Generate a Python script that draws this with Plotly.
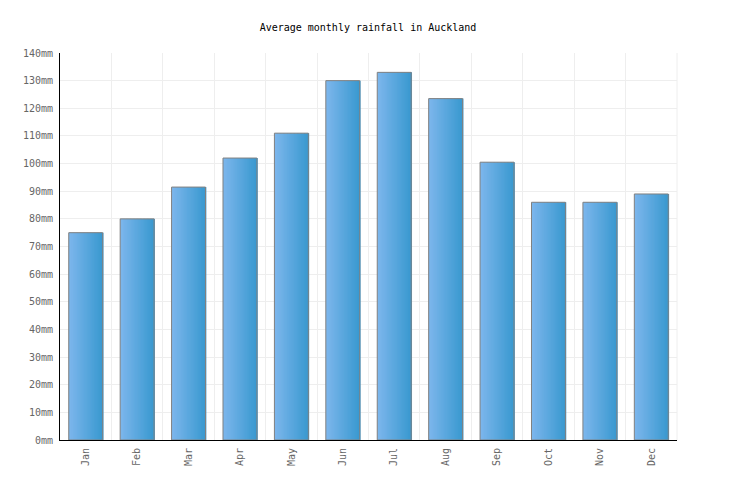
import plotly.graph_objects as go

months = ["Jan", "Feb", "Mar", "Apr", "May", "Jun", "Jul", "Aug", "Sep", "Oct", "Nov", "Dec"]
rainfall = [75, 80, 91.5, 102, 111, 130, 133, 123.5, 100.5, 86, 86, 89]
title = "Average monthly rainfall in Auckland"

left_rgb = (124, 182, 236)
right_rgb = (58, 153, 208)
N = 24
W = 0.66

fig = go.Figure()
for i in range(N):
    t = i / (N - 1)
    c = tuple(round(left_rgb[k] + (right_rgb[k] - left_rgb[k]) * t) for k in range(3))
    fig.add_trace(go.Bar(
        x=months, y=rainfall,
        width=W / N * 1.6, offset=-W / 2 + i * W / N,
        marker=dict(color="rgb(%d,%d,%d)" % c, line=dict(width=0)),
        hoverinfo="skip", showlegend=False,
    ))
fig.add_trace(go.Bar(
    x=months, y=rainfall, width=W, offset=-W / 2,
    marker=dict(color="rgba(0,0,0,0)", line=dict(color="#808080", width=1)),
    showlegend=False, hoverinfo="skip",
))

mono = "DejaVu Sans Mono"
fig.update_layout(
    width=736, height=500,
    margin=dict(l=60, r=59, t=53, b=60),
    barmode="overlay",
    paper_bgcolor="white", plot_bgcolor="white",
    title=dict(text=title, x=0.5, xanchor="center", y=1 - 27 / 500, yanchor="middle",
               font=dict(family=mono, size=10, color="#000")),
    font=dict(family=mono, size=10, color="#666"),
    xaxis=dict(
        tickson="boundaries", showgrid=True, gridcolor="#eeeeee",
        tickangle=-90, showline=True, linecolor="#000", linewidth=1,
        ticks="", tickfont=dict(family=mono, size=10, color="#666"),
        range=[-0.5, 11.5], ticklabelstandoff=3,
    ),
    yaxis=dict(
        range=[0, 140], dtick=10, ticksuffix="mm",
        showgrid=True, gridcolor="#eeeeee", zeroline=False,
        showline=True, linecolor="#000", linewidth=1, ticks="",
        tickfont=dict(family=mono, size=10, color="#666"),
        ticklabelstandoff=4,
    ),
    hovermode=False,
)
fig.add_shape(type="line", xref="paper", yref="paper", x0=1, x1=1, y0=0, y1=1,
              line=dict(color="#eeeeee", width=1), layer="below")

fig.write_html("out.html")
